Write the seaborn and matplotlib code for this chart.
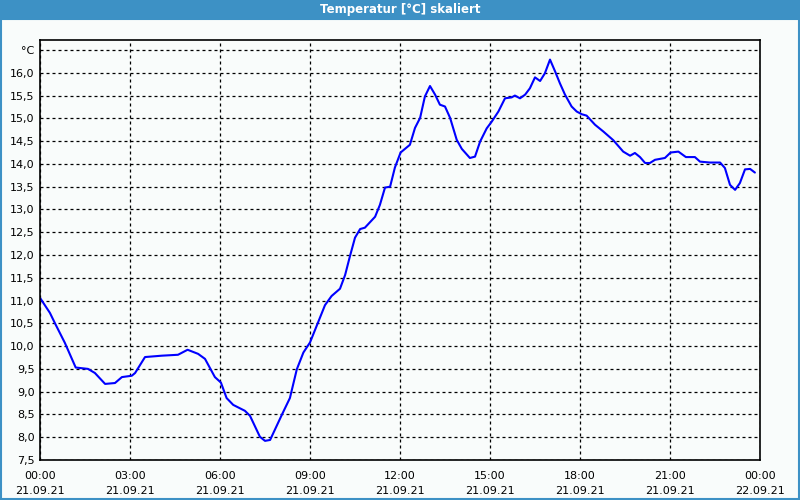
import matplotlib
matplotlib.use("Agg")
import matplotlib.pyplot as plt
import matplotlib.patches as mpatches
import seaborn as sns
import pandas as pd

# Hours since 21.09.21 00:00
hours = [0.0, 0.33, 0.5, 0.83, 1.19, 1.6, 1.83, 2.17, 2.5, 2.73, 3.06, 3.17, 3.5,
         4.06, 4.6, 4.92, 5.27, 5.5, 5.83, 6.03, 6.22, 6.44, 6.83, 7.0, 7.33, 7.5,
         7.67, 8.06, 8.33, 8.56, 8.78, 9.0, 9.5, 9.72, 10.0, 10.17, 10.33, 10.5,
         10.67, 10.83, 11.17, 11.33, 11.5, 11.67, 11.83, 12.02, 12.33, 12.5, 12.67,
         12.83, 13.0, 13.17, 13.33, 13.5, 13.67, 13.89, 14.06, 14.33, 14.5, 14.67,
         14.89, 15.06, 15.28, 15.5, 15.72, 15.83, 16.0, 16.17, 16.33, 16.5, 16.67,
         16.83, 17.0, 17.17, 17.33, 17.5, 17.72, 17.89, 18.06, 18.22, 18.5, 18.78,
         19.11, 19.44, 19.67, 19.83, 20.0, 20.17, 20.33, 20.5, 20.83, 21.02, 21.28,
         21.53, 21.83, 22.0, 22.33, 22.67, 22.83, 23.0, 23.17, 23.33, 23.5, 23.67,
         23.83]
temps = [11.06, 10.73, 10.5, 10.07, 9.53, 9.5, 9.41, 9.17, 9.19, 9.32, 9.35, 9.41, 9.76,
         9.79, 9.81, 9.92, 9.83, 9.72, 9.32, 9.2, 8.86, 8.71, 8.58, 8.47, 8.01, 7.92,
         7.94, 8.49, 8.86, 9.49, 9.86, 10.08, 10.9, 11.1, 11.26, 11.56, 11.97, 12.38,
         12.57, 12.6, 12.84, 13.1, 13.48, 13.5, 13.92, 14.25, 14.42, 14.79, 15.01,
         15.48, 15.71, 15.52, 15.3, 15.26, 15.01, 14.53, 14.33, 14.13, 14.16, 14.49,
         14.78, 14.93, 15.15, 15.44, 15.46, 15.5, 15.44, 15.52, 15.66, 15.9, 15.82,
         15.99, 16.29, 16.03, 15.77, 15.52, 15.26, 15.15, 15.09, 15.06, 14.86, 14.71,
         14.52, 14.27, 14.18, 14.24, 14.15, 14.02, 14.02, 14.09, 14.13, 14.25, 14.27,
         14.15, 14.15, 14.05, 14.03, 14.03, 13.91, 13.54, 13.43, 13.58, 13.88, 13.89,
         13.81]

x_ticks = [0, 3, 6, 9, 12, 15, 18, 21, 24]
x_labels = ["00:00\n21.09.21", "03:00\n21.09.21", "06:00\n21.09.21", "09:00\n21.09.21",
            "12:00\n21.09.21", "15:00\n21.09.21", "18:00\n21.09.21", "21:00\n21.09.21",
            "00:00\n22.09.21"]
y_ticks = [7.5, 8.0, 8.5, 9.0, 9.5, 10.0, 10.5, 11.0, 11.5, 12.0, 12.5, 13.0, 13.5,
           14.0, 14.5, 15.0, 15.5, 16.0, 16.5]
y_labels = ["7,5", "8,0", "8,5", "9,0", "9,5", "10,0", "10,5", "11,0", "11,5", "12,0",
            "12,5", "13,0", "13,5", "14,0", "14,5", "15,0", "15,5", "16,0", "°C"]
title = "Temperatur [°C] skaliert"

df = pd.DataFrame({"hour": hours, "temp": temps})

sns.set_style("white")
plt.rcParams["font.family"] = ["DejaVu Sans"]

bg = "#f9fcfb"
bar = "#3d91c5"
fig = plt.figure(figsize=(8, 5), dpi=100, facecolor=bg)

# title bar and frame
fig.patches.append(mpatches.Rectangle((0, 0.96), 1, 0.04, transform=fig.transFigure,
                                      facecolor=bar, edgecolor="none", zorder=0))
fig.patches.append(mpatches.Rectangle((0.0015, 0.002), 0.997, 0.96, transform=fig.transFigure,
                                      facecolor="none", edgecolor=bar, linewidth=1.5, zorder=0))
fig.text(0.5, 0.98, title, color="white", fontsize=8.5, fontweight="bold",
         ha="center", va="center")

ax = fig.add_axes([0.05, 0.08, 0.90, 0.84])
ax.set_facecolor(bg)
sns.lineplot(data=df, x="hour", y="temp", ax=ax, color="#0000ff", linewidth=1.5)

ax.set_xlim(0, 24)
ax.set_ylim(7.5, 16.72)
ax.set_xticks(x_ticks)
ax.set_xticklabels(x_labels, fontsize=8, linespacing=1.6)
ax.set_xticks(range(0, 25), minor=True)
ax.set_yticks(y_ticks)
ax.set_yticklabels(y_labels, fontsize=8)
ax.tick_params(axis="x", which="both", direction="out", length=3, width=1, pad=5, colors="black")
ax.tick_params(axis="y", which="both", direction="out", length=2, width=1, pad=2, colors="black")
ax.grid(True, which="major", color="black", linestyle=(0, (2.4, 2.4)), linewidth=0.9)
ax.set_xlabel("")
ax.set_ylabel("")
for s in ax.spines.values():
    s.set_visible(True)
    s.set_color("black")
    s.set_linewidth(1.2)

fig.savefig("out.png", dpi=100, facecolor=bg)
